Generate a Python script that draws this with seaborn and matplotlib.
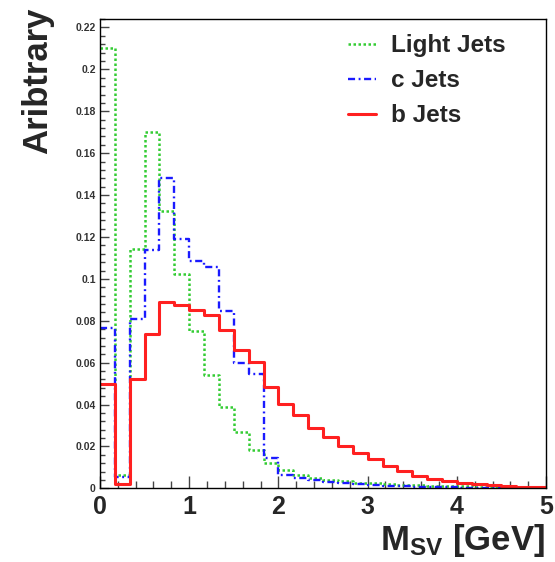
import numpy as np
import pandas as pd
import seaborn as sns
import matplotlib
matplotlib.use("Agg")
import matplotlib.pyplot as plt
from matplotlib.lines import Line2D
from matplotlib.ticker import MultipleLocator

# 30 bins from 0 to 5 GeV
bin_edges = list(np.linspace(0, 5, 31))
bin_centers = [0.5 * (a + b) for a, b in zip(bin_edges[:-1], bin_edges[1:])]

light_jets = [0.210, 0.0064, 0.1143, 0.170, 0.1326, 0.1024, 0.075, 0.054, 0.039, 0.027,
              0.0183, 0.012, 0.0088, 0.0064, 0.0050, 0.0040, 0.0033, 0.0028, 0.0024, 0.0020,
              0.0018, 0.0015, 0.0013, 0.0011, 0.0009, 0.0008, 0.0006, 0.0005, 0.0004, 0.0003]
c_jets = [0.0767, 0.0056, 0.081, 0.114, 0.148, 0.119, 0.1085, 0.1056, 0.0846, 0.060,
          0.0548, 0.0144, 0.0064, 0.0050, 0.0040, 0.0030, 0.0025, 0.0020, 0.0015, 0.0012,
          0.0010, 0.0008, 0.0006, 0.0005, 0.0004, 0.0003, 0.0003, 0.0002, 0.0002, 0.0001]
b_jets = [0.0497, 0.0020, 0.052, 0.0735, 0.089, 0.0874, 0.085, 0.0826, 0.0757, 0.066,
          0.0604, 0.0485, 0.0405, 0.035, 0.0287, 0.0247, 0.0202, 0.017, 0.0139, 0.0107,
          0.0085, 0.0060, 0.0044, 0.0037, 0.0028, 0.0020, 0.0015, 0.0010, 0.0007, 0.0005]

series_names = ["Light Jets", "c Jets", "b Jets"]
colors = ["#33cc33", "#1a1aff", "#ff2020"]
styles = [(0, (1, 1)), (0, (3, 1.5, 0.8, 1.5)), "-"]
widths = [1.8, 1.7, 2.2]

sns.set_style("white")
plt.rcParams["font.family"] = ["Liberation Sans", "DejaVu Sans"]
plt.rcParams["mathtext.fontset"] = "custom"
plt.rcParams["mathtext.rm"] = "Liberation Sans"
plt.rcParams["mathtext.bf"] = "Liberation Sans:bold"

fig = plt.figure(figsize=(5.55, 5.62), dpi=100)
ax = fig.add_axes([0.180, 0.131, 0.804, 0.835])

for name, vals, col, ls, lw in zip(series_names, [light_jets, c_jets, b_jets], colors, styles, widths):
    df = pd.DataFrame({"msv": bin_centers, "w": vals})
    sns.histplot(data=df, x="msv", weights="w", bins=bin_edges, element="step", fill=False,
                 color=col, linestyle=ls, linewidth=lw, ax=ax)

ax.set_xlim(0, 5)
ax.set_ylim(0, 0.224)
ax.set_xlabel("")
ax.set_ylabel("")

for s in ax.spines.values():
    s.set_visible(True)
    s.set_color("black")
    s.set_linewidth(1.0)

ax.xaxis.set_major_locator(MultipleLocator(1))
ax.xaxis.set_minor_locator(MultipleLocator(0.2))
ax.yaxis.set_major_locator(MultipleLocator(0.02))
ax.yaxis.set_minor_locator(MultipleLocator(0.004))
ax.tick_params(axis="x", which="both", direction="in", bottom=True, top=False, color="#444444")
ax.tick_params(axis="x", which="major", length=8.5, width=1, labelsize=18, pad=5)
ax.tick_params(axis="x", which="minor", length=5, width=1)
ax.tick_params(axis="y", which="both", direction="in", left=True, right=False, color="#444444")
ax.tick_params(axis="y", which="major", length=6.5, width=1, labelsize=7.5, pad=3)
ax.tick_params(axis="y", which="minor", length=3.5, width=1)

ax.set_xticks([0, 1, 2, 3, 4, 5])
ax.set_xticklabels(["0", "1", "2", "3", "4", "5"], fontweight="bold")
yt = [0, 0.02, 0.04, 0.06, 0.08, 0.1, 0.12, 0.14, 0.16, 0.18, 0.2, 0.22]
ax.set_yticks(yt)
ax.set_yticklabels(["0", "0.02", "0.04", "0.06", "0.08", "0.1", "0.12", "0.14", "0.16", "0.18", "0.2", "0.22"],
                   fontweight="bold", color="#333333")

fig.text(0.982, 0.005, r"$\mathbf{M_{SV}}$ [GeV]", ha="right", va="bottom",
         fontsize=25, fontweight="bold")
fig.text(0.068, 0.986, "Aribtrary", rotation=90, ha="center", va="top",
         fontsize=25, fontweight="bold")

handles = [Line2D([], [], color=c, linestyle=ls, linewidth=lw) for c, ls, lw in zip(colors, styles, widths)]
leg = ax.legend(handles, series_names, loc="upper left", bbox_to_anchor=(0.529, 0.994),
                frameon=False, borderpad=0, handlelength=1.15, handletextpad=0.6,
                labelspacing=0.5, prop={"family": "Liberation Sans", "weight": "bold", "size": 17.5})

fig.savefig("out.png", dpi=100)
